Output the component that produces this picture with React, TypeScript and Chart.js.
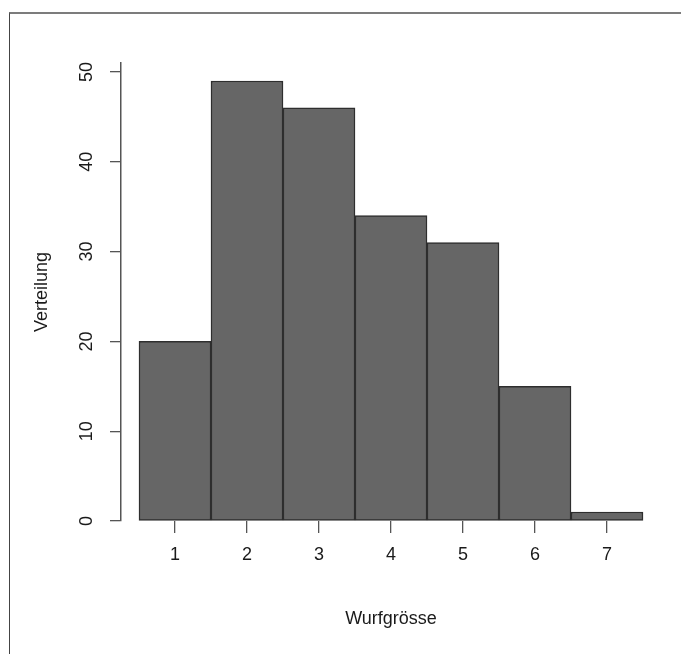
import React, { useEffect, useRef } from 'react';
import { Chart, registerables } from 'chart.js';

Chart.register(...registerables);

const categories = [1, 2, 3, 4, 5, 6, 7];
const counts = [20, 49, 46, 34, 31, 15, 1];
const yTicks = [0, 10, 20, 30, 40, 50];
const xTitle = 'Wurfgrösse';
const yTitle = 'Verteilung';

export default function App() {
  const ref = useRef<HTMLCanvasElement>(null);

  useEffect(() => {
    const font = { family: '"Liberation Sans", Arial, Helvetica, sans-serif', size: 18 };
    const textColor = '#1a1a1a';
    const chart = new Chart(ref.current as HTMLCanvasElement, {
      type: 'bar',
      data: {
        datasets: [
          {
            data: categories.map((c, i) => ({ x: c, y: counts[i] })),
            backgroundColor: '#666666',
            borderColor: '#2e2e2e',
            borderWidth: 1.5,
            borderSkipped: false,
            barPercentage: 1,
            categoryPercentage: 1,
          } as any,
        ],
      },
      options: {
        animation: false,
        responsive: false,
        maintainAspectRatio: false,
        layout: { padding: { top: 63, right: 20, left: 0, bottom: 0 } },
        plugins: { legend: { display: false }, tooltip: { enabled: false } },
        scales: {
          x: {
            type: 'linear',
            min: 0.25,
            max: 7.75,
            offset: false,
            afterBuildTicks: (s: any) => {
              s.ticks = categories.map((v) => ({ value: v }));
            },
            afterFit: (s: any) => {
              s.height = 133;
            },
            grid: {
              display: true,
              offset: false,
              drawOnChartArea: false,
              drawTicks: true,
              tickLength: 12,
              color: '#555555',
              lineWidth: 1.3,
            },
            border: { display: false },
            ticks: {
              padding: 11.7,
              color: textColor,
              font,
              minRotation: 0,
              maxRotation: 0,
              autoSkip: false,
            },
            title: {
              display: true,
              text: xTitle,
              color: textColor,
              font,
              padding: { top: 0, bottom: 24.4 },
            },
          },
          y: {
            type: 'linear',
            min: 0,
            max: 51,
            afterBuildTicks: (s: any) => {
              s.ticks = yTicks.map((v) => ({ value: v }));
            },
            afterFit: (s: any) => {
              s.width = 121;
            },
            grid: {
              display: true,
              drawOnChartArea: false,
              drawTicks: true,
              tickLength: 11,
              color: '#555555',
              lineWidth: 1.3,
            },
            border: { display: true, color: '#555555', width: 1.5 },
            ticks: {
              padding: 12.5,
              crossAlign: 'center',
              minRotation: 90,
              maxRotation: 90,
              color: textColor,
              font,
              autoSkip: false,
            },
            title: {
              display: true,
              text: yTitle,
              color: textColor,
              font,
              padding: { top: 31.5, bottom: 0 },
            },
          },
        },
      } as any,
    });
    return () => chart.destroy();
  }, []);

  return (
    <div style={{ position: 'fixed', left: 0, top: 0, right: 0, bottom: 0, background: '#ffffff' }}>
      <div
        style={{
          position: 'fixed',
          left: 9,
          top: 12,
          right: 0,
          bottom: 0,
          borderTop: '2px solid #7c7c7c',
          borderLeft: '1.5px solid #444444',
        }}
      />
      <canvas
        ref={ref}
        width={681}
        height={654}
        style={{ position: 'absolute', left: 0, top: 0, display: 'block' }}
      />
    </div>
  );
}
